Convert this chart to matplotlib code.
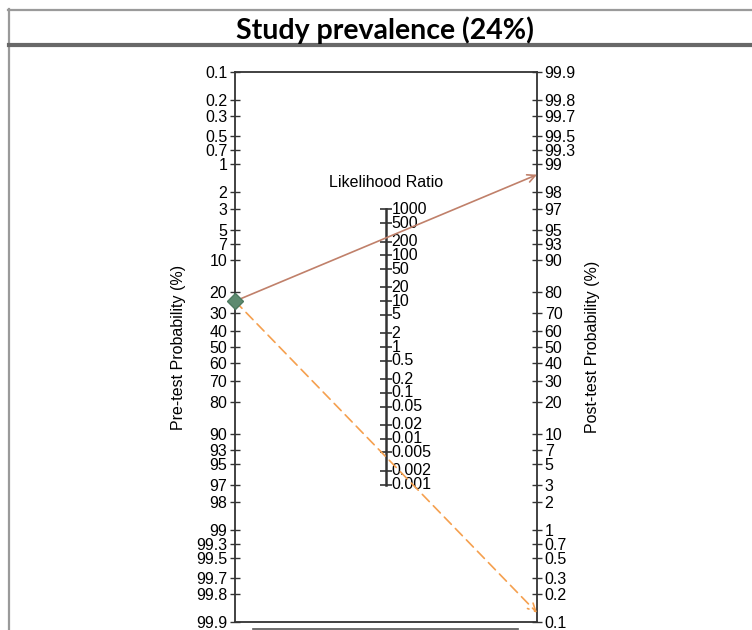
import numpy as np
import matplotlib
matplotlib.use("Agg")
import matplotlib.pyplot as plt
from matplotlib.lines import Line2D

plt.rcParams['font.family'] = ['Liberation Sans', 'DejaVu Sans']

# Fagan nomogram inputs
pretest = 24.0          # pre-test probability (%)
lr_positive = 240.0     # positive likelihood ratio
lr_negative = 0.004     # negative likelihood ratio

prob_ticks = [0.1, 0.2, 0.3, 0.5, 0.7, 1, 2, 3, 5, 7, 10, 20, 30, 40, 50, 60, 70,
              80, 90, 93, 95, 97, 98, 99, 99.3, 99.5, 99.7, 99.8, 99.9]
lr_ticks = [1000, 500, 200, 100, 50, 20, 10, 5, 2, 1, 0.5, 0.2, 0.1, 0.05,
            0.02, 0.01, 0.005, 0.002, 0.001]


def logit(p_pct):
    p = np.asarray(p_pct, dtype=float) / 100.0
    return np.log(p / (1 - p))


def fmt(v):
    return ('%g' % v)


W, H = 752, 630
FS = 11.5
fig = plt.figure(figsize=(W / 100, H / 100), dpi=100)

# page frame and title band
fig.add_artist(Line2D([8 / W, 1], [1 - 9.5 / H] * 2, color='#9a9a9a', lw=1.6))
fig.add_artist(Line2D([8.5 / W] * 2, [0, 1 - 9 / H], color='#9a9a9a', lw=1.6))
fig.add_artist(Line2D([9 / W, 1], [1 - 44.5 / H] * 2, color='#686868', lw=3.0))
fig.add_artist(Line2D([253 / W, 518 / W], [0.8 / H] * 2, color='#555555', lw=1.2))
fig.text(385 / W, 1 - 30 / H, 'Study prevalence (24%)', ha='center', va='center',
         fontsize=20.5, fontweight='bold', family=['Lato', 'DejaVu Sans'])

L = float(logit(99.9))
ax = fig.add_axes([235 / W, 8 / H, 302 / W, 550 / H])
ax.set_xlim(-1, 1)
ax.set_ylim(-L, L)
for s in ax.spines.values():
    s.set_color('#333333')
    s.set_linewidth(1.3)

# left axis: pre-test probability (0.1 at top)
ax.set_yticks(-logit(prob_ticks))
ax.set_yticklabels([fmt(v) for v in prob_ticks])
ax.set_xticks([])
ax.tick_params(axis='y', direction='inout', length=7, width=1, color='#333333',
               labelsize=FS, pad=2)

# right axis: post-test probability (99.9 at top)
ax2 = ax.twinx()
ax2.set_ylim(-L, L)
ax2.set_yticks(logit(prob_ticks))
ax2.set_yticklabels([fmt(v) for v in prob_ticks])
ax2.tick_params(axis='y', direction='inout', length=7, width=1, color='#333333',
                labelsize=FS, pad=2)
for s in ax2.spines.values():
    s.set_visible(False)

# middle axis: likelihood ratio
lr_y = np.log(np.array(lr_ticks, dtype=float)) / 2
ax.plot([0, 0], [lr_y.min(), lr_y.max()], color='#333333', lw=1.8, zorder=2)
ax.plot(np.zeros_like(lr_y), lr_y, ls='none', marker='_', ms=8, mew=1.2,
        color='#333333', zorder=2)
for v, y in zip(lr_ticks, lr_y):
    ax.annotate(fmt(v), (0, y), xytext=(4, 0), textcoords='offset points',
                ha='left', va='center', fontsize=FS)
ax.annotate('Likelihood Ratio', (0, lr_y.max()), xytext=(0, 14),
            textcoords='offset points', ha='center', va='bottom', fontsize=FS)

# pre-test to post-test lines
y_pre = -float(logit(pretest))
for lr, col, ls in [(lr_positive, '#c0806a', '-'), (lr_negative, '#f5a04f', (0, (6, 3.5)))]:
    y_post = float(logit(pretest)) + np.log(lr)
    ax.annotate('', xy=(1, y_post), xytext=(-1, y_pre),
                arrowprops=dict(arrowstyle='->', color=col, lw=1.2, linestyle=ls,
                                shrinkA=0, shrinkB=0, mutation_scale=14),
                zorder=3)
ax.plot([-1], [y_pre], marker='D', ms=8, color='#5d8b70', mec='#4d7a60',
        clip_on=False, zorder=4)

fig.text(178 / W, 1 - 347 / H, 'Pre-test Probability (%)', rotation=90,
         ha='center', va='center', fontsize=FS)
fig.text(592 / W, 1 - 347 / H, 'Post-test Probability (%)', rotation=90,
         ha='center', va='center', fontsize=FS)

fig.savefig('out.png', dpi=100)
